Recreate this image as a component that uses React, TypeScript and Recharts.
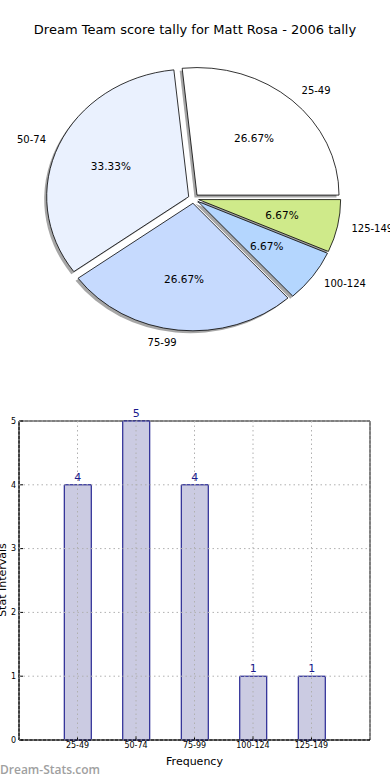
import { PieChart, Pie, Cell, BarChart, Bar, XAxis, YAxis, CartesianGrid, LabelList, ReferenceArea } from "recharts";

const intervals = ["25-49", "50-74", "75-99", "100-124", "125-149"];
const counts = [4, 5, 4, 1, 1];
const sliceColors = ["#ffffff", "#eaf1fe", "#c6dafe", "#b4d6fe", "#cfea8a"];
const yTicks = [0, 1, 2, 3, 4, 5];

const pieData = intervals.map((name, i) => ({ name, value: counts[i] }));
const barData = intervals.map((name, i) => ({ pos: i + 1, name, count: counts[i] }));

const FONT = "'DejaVu Sans', sans-serif";
const SQUASH = 0.898; // pie is drawn as an ellipse (no equal aspect)
const EXPLODE = 0.037;
const RAD = Math.PI / 180;

function wedge(cx: number, cy: number, rx: number, ry: number, a0: number, a1: number) {
  const lo = Math.min(a0, a1);
  const hi = Math.max(a0, a1);
  const x0 = cx + rx * Math.cos(lo * RAD);
  const y0 = cy - ry * Math.sin(lo * RAD);
  const x1 = cx + rx * Math.cos(hi * RAD);
  const y1 = cy - ry * Math.sin(hi * RAD);
  const large = hi - lo > 180 ? 1 : 0;
  return `M${cx},${cy} L${x0},${y0} A${rx},${ry} 0 ${large} 0 ${x1},${y1} Z`;
}

function offset(p: any) {
  const rx = p.outerRadius;
  const ry = p.outerRadius * SQUASH;
  return {
    x: p.cx + EXPLODE * rx * Math.cos(p.midAngle * RAD),
    y: p.cy - EXPLODE * ry * Math.sin(p.midAngle * RAD),
    rx,
    ry,
  };
}

const slice = (p: any) => {
  const o = offset(p);
  return <path d={wedge(o.x, o.y, o.rx, o.ry, p.startAngle, p.endAngle)} fill={p.fill} stroke="#000" strokeWidth={0.8} />;
};

const shadow = (p: any) => {
  const o = offset(p);
  return <path d={wedge(o.x - 2.5, o.y + 2.5, o.rx, o.ry, p.startAngle, p.endAngle)} fill="#4d4d4d" fillOpacity={0.5} stroke="none" />;
};

const sliceLabel = (p: any) => {
  const o = offset(p);
  const c = Math.cos(p.midAngle * RAD);
  const s = Math.sin(p.midAngle * RAD);
  return (
    <g>
      <text x={o.x + 1.1 * o.rx * c} y={o.y - 1.1 * o.ry * s} textAnchor={c > 0 ? "start" : "end"} dominantBaseline="central" fontSize={10} fontFamily={FONT} fill="#000">
        {p.name}
      </text>
      <text x={o.x + 0.6 * o.rx * c} y={o.y - 0.6 * o.ry * s} textAnchor="middle" dominantBaseline="central" fontSize={10.5} fontFamily={FONT} fill="#000">
        {(p.percent * 100).toFixed(2)}%
      </text>
    </g>
  );
};

export default function App() {
  return (
    <div style={{ position: "absolute", left: 0, top: 0, width: 390, height: 780, background: "#fff", fontFamily: FONT, overflow: "hidden" }}>
      <div style={{ position: "absolute", top: 21, left: 0, width: 390, textAlign: "center", fontSize: 13, lineHeight: "18px" }}>
        Dream Team score tally for Matt Rosa - 2006 tally
      </div>

      <div style={{ position: "absolute", top: 0, left: 0 }}>
        <PieChart width={390} height={380} margin={{ top: 0, right: 0, bottom: 0, left: 0 }}>
          <Pie data={pieData} dataKey="value" nameKey="name" cx={193.5} cy={198.6} outerRadius={142} startAngle={0} endAngle={360}
            shape={shadow} inactiveShape={shadow} stroke="none" isAnimationActive={false} label={false} labelLine={false}>
            {pieData.map((d, i) => <Cell key={d.name} fill={sliceColors[i]} />)}
          </Pie>
          <Pie data={pieData} dataKey="value" nameKey="name" cx={193.5} cy={198.6} outerRadius={142} startAngle={0} endAngle={360}
            shape={slice} inactiveShape={slice} stroke="#000" isAnimationActive={false} label={sliceLabel} labelLine={false}>
            {pieData.map((d, i) => <Cell key={d.name} fill={sliceColors[i]} />)}
          </Pie>
        </PieChart>
      </div>

      <div style={{ position: "absolute", top: 380, left: 0 }}>
        <BarChart width={390} height={400} data={barData} margin={{ top: 41, right: 20, bottom: 0, left: 0 }}>
          <XAxis dataKey="pos" type="number" domain={[0, 6]} ticks={[1, 2, 3, 4, 5]} tickFormatter={(v: number) => intervals[v - 1]}
            height={40} tickSize={-4} tickMargin={6} stroke="#000" tick={{ fontSize: 8, fill: "#000", fontFamily: FONT }}
            label={{ value: "Frequency", position: "insideBottom", offset: 15, fontSize: 11, fill: "#000", fontFamily: FONT }} />
          <YAxis domain={[0, 5]} ticks={yTicks} width={19} tickSize={-4} tickMargin={7} stroke="#000"
            tick={{ fontSize: 8, fill: "#000", fontFamily: FONT }} />
          <Bar dataKey="count" barSize={27} fill="#cbcbe2" stroke="#000080" strokeWidth={1} isAnimationActive={false}>
            <LabelList dataKey="count" position="top" offset={4} fill="#1a1a8c" fontSize={11} fontFamily={FONT} />
          </Bar>
          <CartesianGrid stroke="#b0b0b0" strokeDasharray="1.5 3" zIndex={1000} />
          <ReferenceArea x1={0} x2={6} y1={0} y2={5} fill="none" stroke="#000" strokeWidth={1} />
        </BarChart>
      </div>

      <div style={{ position: "absolute", left: -47, top: 573, width: 100, textAlign: "center", fontSize: 11, lineHeight: "14px", whiteSpace: "nowrap", transform: "rotate(-90deg)" }}>
        Stat Intervals
      </div>
      <div style={{ position: "absolute", left: 0, top: 762, fontSize: 12, fontWeight: 600, fontFamily: "'Open Sans', sans-serif", color: "#a0a0a0", lineHeight: "16px", whiteSpace: "nowrap" }}>
        Dream-Stats.com
      </div>
    </div>
  );
}
